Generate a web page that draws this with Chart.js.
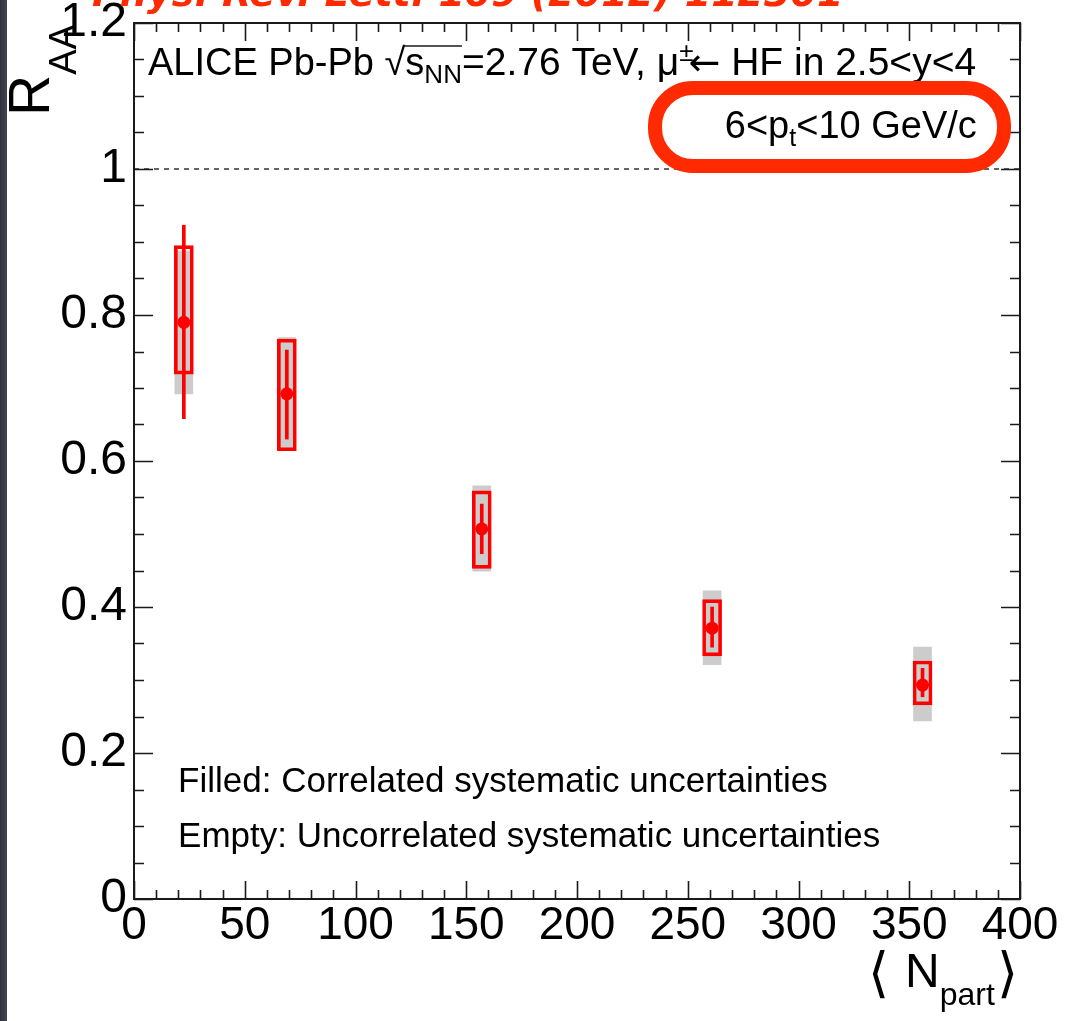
<!DOCTYPE html>
<html>
<head>
<meta charset="utf-8">
<script src="https://cdn.jsdelivr.net/npm/chart.js@4.4.0/dist/chart.umd.min.js"></script>
<style>
  html, body { margin: 0; padding: 0; background: #fff; }
  #wrap { width: 1067px; height: 1021px; }
</style>
</head>
<body>
<div id="wrap"><canvas id="chart" width="1067" height="1021"></canvas></div>
<script>
// ALICE Pb-Pb, muons from heavy-flavour decays, 6<pt<10 GeV/c, RAA vs <Npart>
const nPart = [22.5, 69, 157, 261, 356];
const raa = [0.790, 0.692, 0.507, 0.371, 0.293];
const statLow = [0.658, 0.630, 0.473, 0.345, 0.277];
const statHigh = [0.923, 0.752, 0.541, 0.400, 0.316];
const uncorrLow = [0.719, 0.614, 0.453, 0.333, 0.266];
const uncorrHigh = [0.895, 0.767, 0.559, 0.410, 0.326];
const corrLow = [0.692, 0.616, 0.449, 0.321, 0.244];
const corrHigh = [0.888, 0.769, 0.566, 0.422, 0.345];
const refX = [0, 400];
const refY = [1, 1];

const FONT = '"Liberation Sans", Arial, sans-serif';

function floating(lo, hi) {
    return nPart.map((x, i) => ({ x: x, y: [lo[i], hi[i]] }));
}

// draws a run of text pieces left to right, returns their extents
function drawRuns(ctx, x, y, runs) {
    let cx = x;
    const pos = [];
    for (const r of runs) {
        ctx.font = `${r.style || ''} ${r.size}px ${r.family || FONT}`;
        ctx.fillText(r.t, cx, y + (r.dy || 0));
        const w = ctx.measureText(r.t).width;
        pos.push({ x0: cx, x1: cx + w });
        cx += w + (r.gap || 0);
    }
    return pos;
}

const rootStyle = {
    id: 'rootStyle',
    beforeDraw(chart) {
        const ctx = chart.ctx;
        ctx.save();
        const g = ctx.createLinearGradient(0, 0, 8, 0);
        g.addColorStop(0, '#2e313b');
        g.addColorStop(1, '#474a56');
        ctx.fillStyle = g;
        ctx.fillRect(0, 0, 7, chart.height);
        ctx.restore();
    },
    afterDraw(chart) {
        const ctx = chart.ctx;
        const xs = chart.scales.x, ys = chart.scales.y;
        const a = chart.chartArea;
        ctx.save();

        // frame and inward ticks on all four sides
        ctx.strokeStyle = '#1a1a1a';
        ctx.lineWidth = 2;
        ctx.strokeRect(a.left, a.top, a.right - a.left, a.bottom - a.top);
        ctx.lineWidth = 1.6;
        ctx.beginPath();
        for (let v = 0; v <= 400; v += 10) {
            const p = Math.round(xs.getPixelForValue(v)) + 0.5;
            const len = v % 50 === 0 ? 18 : 9;
            ctx.moveTo(p, a.bottom); ctx.lineTo(p, a.bottom - len);
            ctx.moveTo(p, a.top); ctx.lineTo(p, a.top + len);
        }
        for (let k = 0; k <= 24; k++) {
            const v = k * 0.05;
            const p = Math.round(ys.getPixelForValue(v)) + 0.5;
            const len = k % 4 === 0 ? 19 : 10;
            ctx.moveTo(a.left, p); ctx.lineTo(a.left + len, p);
            ctx.moveTo(a.right, p); ctx.lineTo(a.right - len, p);
        }
        ctx.stroke();

        ctx.fillStyle = '#000';
        ctx.textBaseline = 'alphabetic';
        ctx.textAlign = 'left';

        // y axis title R_AA (rotated)
        ctx.save();
        ctx.translate(49, 116);
        ctx.rotate(-Math.PI / 2);
        drawRuns(ctx, 0, 0, [
            { t: 'R', size: 57 },
            { t: 'AA', size: 38, dy: 27 }
        ]);
        ctx.restore();

        // x axis title < N_part >
        const xb = a.bottom + 88;
        ctx.font = `54px "DejaVu Sans"`;
        ctx.fillText('\u27E8', 868, xb + 4);
        drawRuns(ctx, 905, xb, [
            { t: 'N', size: 48 },
            { t: 'part', size: 32, dy: 18 }
        ]);
        ctx.font = `54px "DejaVu Sans"`;
        ctx.fillText('\u27E9', 997, xb + 4);

        // header text
        const hx = xs.getPixelForValue(6.3);
        const hy = ys.getPixelForValue(1.1288);
        const p = drawRuns(ctx, hx, hy, [
            { t: 'ALICE Pb-Pb ', size: 38 },
            { t: '\u221A', size: 38 },
            { t: 's', size: 38 },
            { t: 'NN', size: 26, dy: 8 },
            { t: '=2.76 TeV, \u03BC', size: 39 },
            { t: '\u00B1', size: 26, dy: -14, gap: -5 },
            { t: '\u2190', size: 38, family: '"DejaVu Sans"' },
            { t: ' HF in 2.5<y<4', size: 39 }
        ]);
        ctx.lineWidth = 1.5;
        ctx.beginPath();
        ctx.moveTo(p[1].x1 - 2, hy - 29);
        ctx.lineTo(p[3].x1, hy - 29);
        ctx.stroke();

        // pt range, right aligned
        const ptRuns = [
            { t: '6<p', size: 38 },
            { t: 't', size: 25, dy: 8 },
            { t: '<10 GeV/c', size: 38 }
        ];
        let w = 0;
        for (const r of ptRuns) { ctx.font = `${r.size}px ${FONT}`; w += ctx.measureText(r.t).width; }
        drawRuns(ctx, xs.getPixelForValue(380.5) - w, ys.getPixelForValue(1.0425), ptRuns);

        // notes
        ctx.font = `35px ${FONT}`;
        ctx.fillText('Filled: Correlated systematic uncertainties', xs.getPixelForValue(19.9), ys.getPixelForValue(0.146));
        ctx.fillText('Empty: Uncorrelated systematic uncertainties', xs.getPixelForValue(19.9), ys.getPixelForValue(0.071));

        // hand-drawn red highlight round the pt range
        ctx.strokeStyle = '#ff2a00';
        ctx.lineWidth = 14;
        ctx.beginPath();
        ctx.roundRect(655, 88, 349, 78, 38);
        ctx.stroke();

        // citation, cut off at the top of the slide
        ctx.fillStyle = '#ff2a00';
        ctx.font = `bold italic 38px "DejaVu Sans"`;
        ctx.fillText('Phys. Rev. Lett. 109 (2012) 112301', 92, 6);

        ctx.restore();
    }
};

const ctx = document.getElementById('chart').getContext('2d');
new Chart(ctx, {
    type: 'bar',
    data: {
        datasets: [
            {
                type: 'scatter',
                data: nPart.map((x, i) => ({ x: x, y: raa[i] })),
                backgroundColor: '#ff0000',
                borderWidth: 0,
                pointRadius: 6.5,
                order: 0
            },
            {
                data: floating(statLow, statHigh),
                backgroundColor: '#ff0000',
                borderWidth: 0,
                barThickness: 3,
                grouped: false,
                order: 1
            },
            {
                data: floating(uncorrLow, uncorrHigh),
                backgroundColor: 'rgba(0,0,0,0)',
                borderColor: '#ff0000',
                borderWidth: 3,
                borderSkipped: false,
                barThickness: 19,
                grouped: false,
                order: 2
            },
            {
                data: floating(corrLow, corrHigh),
                backgroundColor: '#cccccc',
                borderWidth: 0,
                barThickness: 18,
                grouped: false,
                order: 3
            },
            {
                type: 'line',
                data: refX.map((x, i) => ({ x: x, y: refY[i] })),
                borderColor: '#000',
                borderWidth: 1.2,
                borderDash: [5, 5],
                pointRadius: 0,
                order: 4
            }
        ]
    },
    options: {
        responsive: false,
        animation: false,
        layout: { padding: { top: 23, right: 47, left: 0, bottom: 0 } },
        plugins: {
            legend: { display: false },
            tooltip: { enabled: false }
        },
        scales: {
            x: {
                type: 'linear',
                min: 0,
                max: 400,
                offset: false,
                grid: { display: false, drawTicks: false },
                border: { display: false },
                ticks: {
                    stepSize: 50,
                    autoSkip: false,
                    maxRotation: 0,
                    padding: 4,
                    color: '#000',
                    font: { family: FONT, size: 46, lineHeight: 1 }
                },
                afterFit: s => { s.height = 122; }
            },
            y: {
                min: 0,
                max: 1.2,
                grid: { display: false, drawTicks: false },
                border: { display: false },
                ticks: {
                    stepSize: 0.2,
                    padding: 7,
                    color: '#000',
                    font: { family: FONT, size: 48, lineHeight: 0.5 },
                    callback: v => String(Number(v.toFixed(1)))
                },
                afterFit: s => { s.width = 134; }
            }
        }
    },
    plugins: [rootStyle]
});
</script>
</body>
</html>
